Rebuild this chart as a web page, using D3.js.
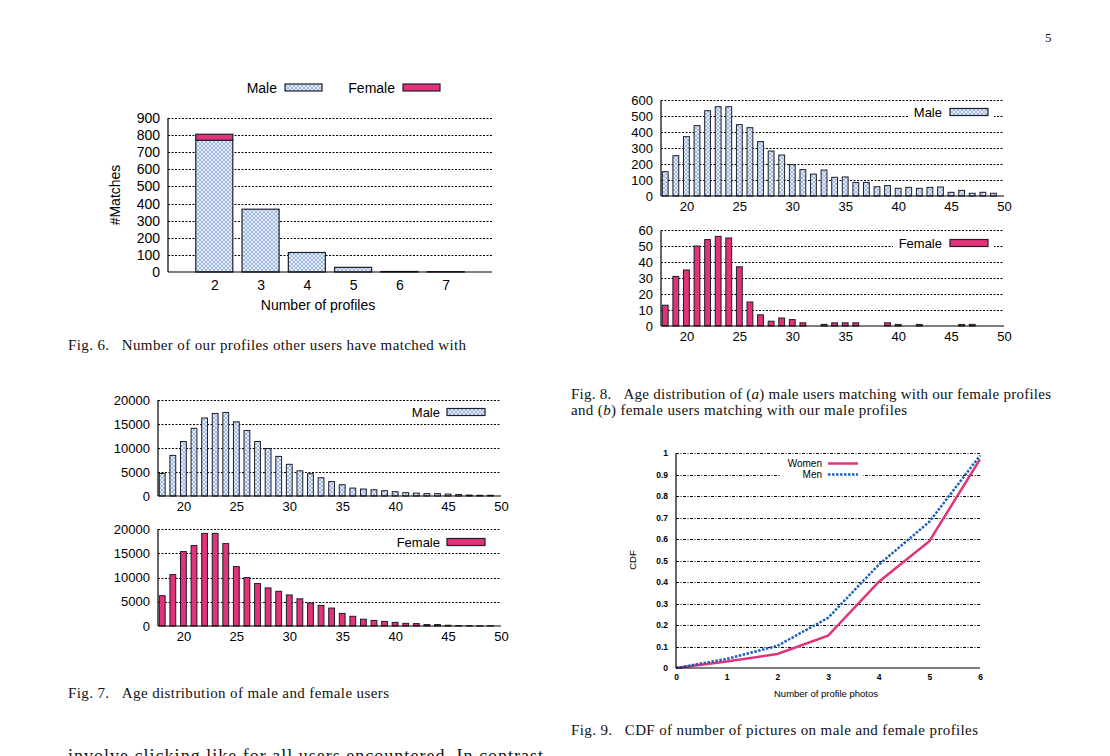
<!DOCTYPE html>
<html><head><meta charset="utf-8">
<script src="https://cdn.jsdelivr.net/npm/d3@7"></script>
<style>
html,body{margin:0;padding:0;background:#fff;}
svg{display:block;}
.sans{font-family:"Liberation Sans",Arial,sans-serif;}
.serif{font-family:"Liberation Serif","Times New Roman",serif;}
</style></head>
<body>
<svg id="page" width="1110" height="756"></svg>
<script>
// ---------- DATA ----------
const fig6Profiles = [2, 3, 4, 5, 6, 7];
const fig6Male = [770, 367, 114, 27, 3, 2];
const fig6Female = [35, 0, 0, 0, 0, 0];
const fig6YTicks = [0, 100, 200, 300, 400, 500, 600, 700, 800, 900];

const ages = [18,19,20,21,22,23,24,25,26,27,28,29,30,31,32,33,34,35,36,37,38,39,40,41,42,43,44,45,46,47,48,49];
const ageTicks = [20, 25, 30, 35, 40, 45, 50];

const fig7Male = [4700,8450,11350,14100,16250,17200,17400,15450,13650,11350,9900,8250,6600,5250,4650,3800,3000,2350,1650,1450,1300,1100,900,700,600,500,500,400,300,200,150,150];
const fig7Female = [6250,10600,15350,16600,19100,19100,17000,12250,10000,8750,7850,7150,6400,5600,4750,4250,3700,2600,2000,1400,1150,950,750,550,500,300,300,150,80,60,50,50];
const fig7YTicks = [0, 5000, 10000, 15000, 20000];

const fig8Male = [152,252,371,440,533,558,558,446,427,340,281,256,196,165,137,162,117,119,85,85,58,65,48,54,48,54,56,23,35,17,23,17];
const fig8Female = [13,31,35,50,54,56,55,37,15,7,3,5,4,2,0,1,2,2,2,0,0,2,1,0,1,0,0,0,1,1,0,0];
const fig8MaleYTicks = [0, 100, 200, 300, 400, 500, 600];
const fig8FemaleYTicks = [0, 10, 20, 30, 40, 50, 60];

const fig9Photos = [0, 1, 2, 3, 4, 5, 6];
const fig9Women = [0, 0.03, 0.065, 0.15, 0.40, 0.59, 0.97];
const fig9Men = [0, 0.042, 0.103, 0.233, 0.48, 0.68, 0.988];
const fig9YTicks = [0, 0.1, 0.2, 0.3, 0.4, 0.5, 0.6, 0.7, 0.8, 0.9, 1];

// ---------- STYLE ----------
const PINK = "#e2327a";
const OUTLINE = "#1d1d2b";
const svg = d3.select("#page");
svg.append("rect").attr("width", 1110).attr("height", 756).attr("fill", "#fff");

const defs = svg.append("defs");
const pat = defs.append("pattern").attr("id", "hatch").attr("patternUnits", "userSpaceOnUse")
  .attr("width", 4).attr("height", 4);
pat.append("rect").attr("width", 4).attr("height", 4).attr("fill", "#e6eefb");
pat.append("path").attr("d", "M0,0L4,4M4,0L0,4").attr("stroke", "#7f9fd6").attr("stroke-width", 0.7);

function gridAndAxes(g, x, y, ticks, opts) {
  const [x0, x1] = x.range();
  ticks.forEach(t => {
    if (t === 0) return;
    g.append("line").attr("x1", x0).attr("x2", x1).attr("y1", Math.round(y(t)) + 0.5).attr("y2", Math.round(y(t)) + 0.5)
      .attr("stroke", "#000").attr("stroke-width", 1).attr("stroke-dasharray", opts.dash || "2,1.5");
  });
  const ya = d3.axisLeft(y).tickValues(ticks).tickSize(0).tickPadding(opts.ypad || 8)
    .tickFormat(opts.yfmt || d3.format("d"));
  const yg = g.append("g").attr("transform", `translate(${x0},0)`).call(ya);
  yg.select(".domain").remove();
  yg.selectAll("text").attr("class", "sans").attr("font-size", opts.fs).attr("fill", "#000")
    .attr("font-weight", opts.fw || "normal");
}

function swatch(g, x, y, w, h, kind) {
  g.append("rect").attr("x", x).attr("y", y).attr("width", w).attr("height", h)
    .attr("fill", kind === "male" ? "url(#hatch)" : PINK).attr("stroke", OUTLINE).attr("stroke-width", 1.2);
}

// ---------- AGE BAR CHART ----------
function ageChart(cfg) {
  const g = svg.append("g");
  const x = d3.scaleLinear().domain([17.6, 50]).range([cfg.left, cfg.right]);
  const y = d3.scaleLinear().domain([0, cfg.yMax]).range([cfg.bottom, cfg.top]);
  gridAndAxes(g, x, y, cfg.yTicks, { fs: cfg.fs, ypad: cfg.ypad });
  const lg = g.append("g");
  lg.append("rect").attr("x", cfg.legBox[0]).attr("y", cfg.legY - 8).attr("width", cfg.legBox[1] - cfg.legBox[0]).attr("height", 16).attr("fill", "#fff");
  lg.append("text").attr("class", "sans").attr("x", cfg.legTextX).attr("y", cfg.legY).attr("dy", "0.35em")
    .attr("text-anchor", "end").attr("font-size", cfg.fs).text(cfg.label);
  swatch(lg, cfg.legSw[0], cfg.legY - 3.5, cfg.legSw[1] - cfg.legSw[0], 7, cfg.kind);
  const bw = x(18.55) - x(18);
  g.selectAll("rect.bar").data(ages.map((a, i) => [a, cfg.values[i]])).join("rect").attr("class", "bar")
    .attr("x", d => x(d[0]) - bw / 2).attr("width", bw)
    .attr("y", d => y(d[1])).attr("height", d => Math.max(0, y(0) - y(d[1])))
    .attr("fill", cfg.kind === "male" ? "url(#hatch)" : PINK)
    .attr("stroke", OUTLINE).attr("stroke-width", 1);
  g.append("line").attr("x1", cfg.left).attr("x2", cfg.left).attr("y1", cfg.top).attr("y2", cfg.bottom).attr("stroke", "#000").attr("stroke-width", 1.2);
  g.append("line").attr("x1", cfg.left).attr("x2", cfg.right).attr("y1", cfg.bottom).attr("y2", cfg.bottom).attr("stroke", "#000").attr("stroke-width", 1.2);
  const xa = d3.axisBottom(x).tickValues(ageTicks).tickSize(0).tickPadding(cfg.xpad || 6).tickFormat(d3.format("d"));
  const xg = g.append("g").attr("transform", `translate(0,${cfg.bottom})`).call(xa);
  xg.select(".domain").remove();
  xg.selectAll("text").attr("class", "sans").attr("font-size", cfg.fs).attr("fill", "#000");
}

// ---------- FIG 6 ----------
(function () {
  const g = svg.append("g");
  const left = 168, right = 492, top = 118, bottom = 272;
  const x = d3.scaleLinear().domain([1, 8]).range([left, right]);
  const y = d3.scaleLinear().domain([0, 900]).range([bottom, top]);
  gridAndAxes(g, x, y, fig6YTicks, { fs: 14, ypad: 8 });
  const bw = x(1.8) - x(1);
  const data = fig6Profiles.map((p, i) => ({ p, m: fig6Male[i], f: fig6Female[i] }));
  g.selectAll("rect.m").data(data).join("rect").attr("class", "m")
    .attr("x", d => x(d.p) - bw / 2).attr("width", bw)
    .attr("y", d => y(d.m)).attr("height", d => y(0) - y(d.m))
    .attr("fill", "url(#hatch)").attr("stroke", OUTLINE).attr("stroke-width", 1.2);
  g.selectAll("rect.f").data(data.filter(d => d.f > 0)).join("rect").attr("class", "f")
    .attr("x", d => x(d.p) - bw / 2).attr("width", bw)
    .attr("y", d => y(d.m + d.f)).attr("height", d => y(d.m) - y(d.m + d.f))
    .attr("fill", PINK).attr("stroke", OUTLINE).attr("stroke-width", 1.2);
  g.append("line").attr("x1", left).attr("x2", left).attr("y1", top).attr("y2", bottom).attr("stroke", "#000").attr("stroke-width", 1.2);
  g.append("line").attr("x1", left).attr("x2", right).attr("y1", bottom).attr("y2", bottom).attr("stroke", "#000").attr("stroke-width", 1.2);
  const xa = d3.axisBottom(x).tickValues(fig6Profiles).tickSize(0).tickPadding(8).tickFormat(d3.format("d"));
  const xg = g.append("g").attr("transform", `translate(0,${bottom})`).call(xa);
  xg.select(".domain").remove();
  xg.selectAll("text").attr("class", "sans").attr("font-size", 14).attr("fill", "#000");
  g.append("text").attr("class", "sans").attr("x", 318).attr("y", 310).attr("text-anchor", "middle").attr("font-size", 14).text("Number of profiles");
  g.append("text").attr("class", "sans").attr("transform", "translate(120,195) rotate(-90)").attr("text-anchor", "middle").attr("font-size", 14).text("#Matches");
  g.append("text").attr("class", "sans").attr("x", 277).attr("y", 88).attr("dy", "0.35em").attr("text-anchor", "end").attr("font-size", 14).text("Male");
  swatch(g, 285, 84, 37, 7, "male");
  g.append("text").attr("class", "sans").attr("x", 395).attr("y", 88).attr("dy", "0.35em").attr("text-anchor", "end").attr("font-size", 14).text("Female");
  swatch(g, 403, 84, 37, 7, "female");
})();

// ---------- FIG 8 ----------
ageChart({ left: 661, right: 1004, top: 100, bottom: 196, yMax: 600, yTicks: fig8MaleYTicks, values: fig8Male, kind: "male",
  fs: 13, ypad: 8, label: "Male", legY: 112, legTextX: 942, legSw: [950, 988], legBox: [909, 994] });
ageChart({ left: 661, right: 1004, top: 230, bottom: 326, yMax: 60, yTicks: fig8FemaleYTicks, values: fig8Female, kind: "female",
  fs: 13, ypad: 8, label: "Female", legY: 243, legTextX: 942, legSw: [950, 988], legBox: [893, 994] });

// ---------- FIG 7 ----------
ageChart({ left: 158, right: 501, top: 400, bottom: 496, yMax: 20000, yTicks: fig7YTicks, values: fig7Male, kind: "male",
  fs: 13, ypad: 8, label: "Male", legY: 412, legTextX: 440, legSw: [447, 485], legBox: [405, 492] });
ageChart({ left: 158, right: 501, top: 529, bottom: 626, yMax: 20000, yTicks: fig7YTicks, values: fig7Female, kind: "female",
  fs: 13, ypad: 8, label: "Female", legY: 542, legTextX: 440, legSw: [447, 485], legBox: [390, 492] });

// ---------- FIG 9 ----------
(function () {
  const g = svg.append("g");
  const left = 676, right = 980, top = 453, bottom = 668;
  const x = d3.scaleLinear().domain([0, 6]).range([left, right]);
  const y = d3.scaleLinear().domain([0, 1]).range([bottom, top]);
  gridAndAxes(g, x, y, fig9YTicks, { fs: 8.5, ypad: 8, fw: "bold", dash: "3,1.5,1,1.5", yfmt: d => d3.format("~g")(d) });
  g.append("rect").attr("x", 781).attr("y", 457).attr("width", 82).attr("height", 24).attr("fill", "#fff");
  g.append("text").attr("class", "sans").attr("x", 822).attr("y", 463.5).attr("dy", "0.35em").attr("text-anchor", "end").attr("font-size", 10).text("Women");
  g.append("line").attr("x1", 828).attr("x2", 858).attr("y1", 463.5).attr("y2", 463.5).attr("stroke", PINK).attr("stroke-width", 2.5);
  g.append("text").attr("class", "sans").attr("x", 822).attr("y", 474.5).attr("dy", "0.35em").attr("text-anchor", "end").attr("font-size", 10).text("Men");
  g.append("line").attr("x1", 828).attr("x2", 858).attr("y1", 474.5).attr("y2", 474.5).attr("stroke", "#1f5fb8").attr("stroke-width", 2.5).attr("stroke-dasharray", "2.5,1.5");
  const line = d3.line().x((d, i) => x(fig9Photos[i])).y(d => y(d));
  g.append("path").attr("d", line(fig9Women)).attr("fill", "none").attr("stroke", PINK).attr("stroke-width", 2.5);
  g.append("path").attr("d", line(fig9Men)).attr("fill", "none").attr("stroke", "#1f5fb8").attr("stroke-width", 2.5).attr("stroke-dasharray", "2.5,1.5");
  g.append("line").attr("x1", left).attr("x2", left).attr("y1", top).attr("y2", bottom).attr("stroke", "#000").attr("stroke-width", 1.2);
  g.append("line").attr("x1", left).attr("x2", right).attr("y1", bottom).attr("y2", bottom).attr("stroke", "#000").attr("stroke-width", 1.2);
  const xa = d3.axisBottom(x).tickValues(fig9Photos).tickSize(0).tickPadding(6).tickFormat(d3.format("d"));
  const xg = g.append("g").attr("transform", `translate(0,${bottom})`).call(xa);
  xg.select(".domain").remove();
  xg.selectAll("text").attr("class", "sans").attr("font-size", 8.5).attr("font-weight", "bold").attr("fill", "#000");
  g.append("text").attr("class", "sans").attr("x", 826).attr("y", 697).attr("text-anchor", "middle").attr("font-size", 9.5).text("Number of profile photos");
  g.append("text").attr("class", "sans").attr("transform", "translate(636,560) rotate(-90)").attr("text-anchor", "middle").attr("font-size", 9.5).text("CDF");
})();

// ---------- TEXT ----------
function caption(x, y, parts, width, fs) {
  const t = svg.append("text").attr("class", "serif").attr("x", x).attr("y", y).attr("font-size", fs || 15).attr("fill", "#111");
  if (width) t.attr("textLength", width).attr("lengthAdjust", "spacing");
  parts.forEach(p => {
    const s = t.append("tspan").text(p.t);
    if (p.i) s.attr("font-style", "italic");
  });
  return t;
}
svg.append("text").attr("class", "serif").attr("x", 1045).attr("y", 42).attr("font-size", 13).attr("fill", "#111").text("5");
caption(68, 350, [{ t: "Fig. 6.\u00A0\u00A0\u00A0Number of our profiles other users have matched with" }], 398);
caption(68, 698, [{ t: "Fig. 7.\u00A0\u00A0\u00A0Age distribution of male and female users" }], 321);
caption(571, 399, [{ t: "Fig. 8.\u00A0\u00A0\u00A0Age distribution of (" }, { t: "a", i: true }, { t: ") male users matching with our female profiles" }], 480);
caption(571, 415, [{ t: "and (" }, { t: "b", i: true }, { t: ") female users matching with our male profiles" }], 336);
caption(571, 735, [{ t: "Fig. 9.\u00A0\u00A0\u00A0CDF of number of pictures on male and female profiles" }], 407);
caption(68, 762, [{ t: "involve clicking like for all users encountered. In contrast" }], 475, 18);
</script>
</body></html>
